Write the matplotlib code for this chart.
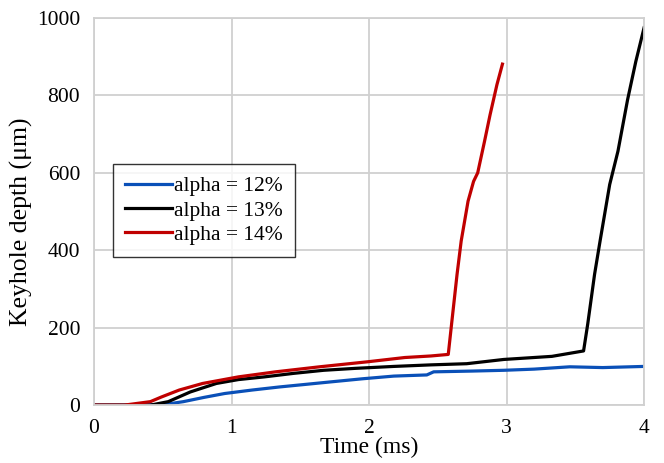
import matplotlib.pyplot as plt

plt.rcParams['font.family'] = ['Liberation Serif', 'DejaVu Serif']

# alpha = 12%
t12 = [0.0, 0.30, 0.52, 0.65, 0.80, 0.95, 1.15, 1.35, 1.55, 1.72, 1.95, 2.18, 2.42,
       2.47, 2.75, 2.98, 3.20, 3.46, 3.70, 4.0]
d12 = [0, 0, 2, 9, 20, 30, 39, 47, 54, 60, 68, 75, 78, 86, 88, 90, 93, 99, 97, 100]

# alpha = 13%
t13 = [0.0, 0.41, 0.54, 0.70, 0.89, 1.05, 1.24, 1.45, 1.67, 1.90, 2.18, 2.45, 2.71,
       2.98, 3.33, 3.56, 3.59, 3.64, 3.68, 3.75, 3.81, 3.88, 3.94, 4.0]
d13 = [0, 0, 9, 34, 56, 66, 73, 82, 90, 95, 100, 104, 107, 118, 126, 140, 209, 338,
       424, 570, 656, 789, 888, 975]

# alpha = 14%
t14 = [0.0, 0.22, 0.41, 0.49, 0.62, 0.79, 1.05, 1.32, 1.64, 1.99, 2.26, 2.45, 2.576,
       2.60, 2.64, 2.67, 2.72, 2.76, 2.79, 2.84, 2.88, 2.93, 2.97]
d14 = [0, 0, 9, 21, 39, 56, 73, 86, 99, 112, 123, 127, 131, 209, 338, 424, 527, 578,
       600, 682, 750, 828, 881]

fig = plt.figure(figsize=(6.64, 4.63), dpi=100)
ax = fig.add_axes([0.1416, 0.125, 0.8284, 0.836])

ax.plot(t12, d12, color='#0a50b8', lw=2.3, label='alpha = 12%')
ax.plot(t13, d13, color='black', lw=2.3, label='alpha = 13%')
ax.plot(t14, d14, color='#c00000', lw=2.3, label='alpha = 14%')

ax.set_xlim(0, 4)
ax.set_ylim(0, 1000)
ax.set_xticks([0, 1, 2, 3, 4])
ax.set_yticks([0, 200, 400, 600, 800, 1000])
ax.grid(True, color='#d0d0d0', lw=1.3)
ax.set_axisbelow(True)
for s in ax.spines.values():
    s.set_color('#d0d0d0')
    s.set_linewidth(1.3)
ax.tick_params(length=0, labelsize=15.5, pad=10)
ax.set_xlabel('Time (ms)', fontsize=17, labelpad=-1)
ax.set_ylabel('Keyhole depth (\u03bcm)', fontsize=18.5)
ax.yaxis.set_label_coords(-0.111, 0.473)

leg = ax.legend(loc='upper left', bbox_to_anchor=(0.034, 0.622), fontsize=15.5,
                frameon=True, fancybox=False, handlelength=2.2, handletextpad=0.1,
                borderpad=0.55, labelspacing=0.2, borderaxespad=0)
leg.get_frame().set_edgecolor('black')
leg.get_frame().set_linewidth(1.0)

plt.savefig('out.png', dpi=100)
